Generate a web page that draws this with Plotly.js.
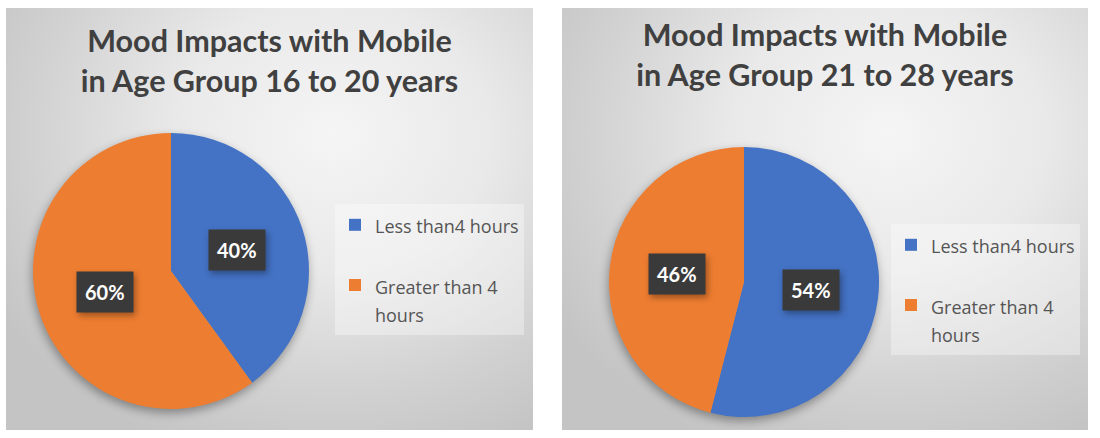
<!DOCTYPE html>
<html>
<head>
<meta charset="utf-8">
<script src="https://cdn.plot.ly/plotly-3.0.1.min.js"></script>
<style>
  html, body { margin: 0; padding: 0; background: #ffffff; width: 1100px; height: 438px; overflow: hidden; }
  .panel { position: absolute; top: 8px; height: 422px;
    background: radial-gradient(ellipse 75% 80% at 62% 30%, #f5f5f5 0%, #e9e9e9 40%, #d2d2d2 75%, #c4c4c4 100%); }
  #p1 { left: 6px; width: 527px; }
  #p2 { left: 562px; width: 526px; }
  .pielayer .trace { filter: drop-shadow(-1px 4px 5px rgba(0,0,0,0.35)); }
  .annotation-text-g rect.bg { filter: drop-shadow(2px 3px 3px rgba(0,0,0,0.35)); }
</style>
</head>
<body>
<div class="panel" id="p1"></div>
<div class="panel" id="p2"></div>
<script>
// ---- data ----
const categories = ["Less than4 hours", "Greater than 4 hours"];
const group1Values = [40, 60];
const group2Values = [54, 46];
const titles = [
  "Mood Impacts with Mobile<br>in Age Group 16 to 20 years",
  "Mood Impacts with Mobile<br>in Age Group 21 to 28 years"
];
const sliceColors = ["#4472C4", "#ED7D31"];

// ---- helpers ----
const FONT = "Lato, 'Open Sans', sans-serif";
const LEGEND_FONT = "'Open Sans', sans-serif";
function wrapLabel(s, maxLen) {
  const words = s.split(" ");
  const lines = [];
  let cur = "";
  words.forEach(w => {
    if (cur && (cur + " " + w).length > maxLen) { lines.push(cur); cur = w; }
    else { cur = cur ? cur + " " + w : w; }
  });
  if (cur) lines.push(cur);
  while (lines.length < 2) lines.push(" ");
  return lines.map(l => '<span style="font-size:18px">' + l + '</span>').join("<br>");
}

function drawPanel(divId, W, H, values, title, dom, titleCfg, legendCfg, labelK) {
  const labels = categories.map(c => wrapLabel(c, 16));
  const total = values.reduce((a, b) => a + b, 0);
  const rPx = Math.min((dom.x[1] - dom.x[0]) * W, (dom.y[1] - dom.y[0]) * H) / 2;
  const cx = (dom.x[0] + dom.x[1]) / 2, cy = (dom.y[0] + dom.y[1]) / 2;
  let cum = 0;
  const annotations = values.map((v, i) => {
    const mid = (cum + v / 2) / total * 2 * Math.PI;
    cum += v;
    return {
      xref: "paper", yref: "paper", x: cx, y: cy,
      xshift: labelK * rPx * Math.sin(mid),
      yshift: labelK * rPx * Math.cos(mid),
      text: Math.round(v / total * 100) + "%",
      showarrow: false,
      font: { family: FONT, size: 20, color: "#ffffff", weight: 700 },
      bgcolor: "#3a3a3a",
      borderpad: 8,
      xanchor: "center", yanchor: "middle"
    };
  });
  const trace = {
    type: "pie",
    labels: labels,
    values: values,
    sort: false,
    direction: "clockwise",
    rotation: 0,
    textinfo: "none",
    hoverinfo: "skip",
    marker: { colors: sliceColors, line: { width: 0 } },
    domain: dom
  };
  const layout = {
    width: W, height: H,
    margin: { l: 0, r: 0, t: 0, b: 0 },
    paper_bgcolor: "rgba(0,0,0,0)",
    plot_bgcolor: "rgba(0,0,0,0)",
    title: {
      text: title,
      font: { family: FONT, size: 30.5, color: "#404040", weight: 700 },
      x: titleCfg.x, xanchor: "center", y: titleCfg.y, yanchor: "top"
    },
    showlegend: true,
    legend: {
      x: legendCfg.x, y: legendCfg.y, xanchor: "left", yanchor: "top",
      bgcolor: "rgba(255,255,255,0.35)",
      borderwidth: 0,
      valign: "top",
      font: { family: LEGEND_FONT, size: 22, color: "#555555" }
    },
    annotations: annotations
  };
  Plotly.newPlot(divId, [trace], layout, { staticPlot: true, displayModeBar: false });
}

drawPanel("p1", 527, 422, group1Values, titles[0],
  { x: [27 / 527, 303 / 527], y: [21 / 422, 297 / 422] },
  { x: 0.5, y: 1 - 44 / 422 },
  { x: 329 / 527, y: 1 - 196 / 422 }, 0.5);

drawPanel("p2", 526, 422, group2Values, titles[1],
  { x: [47 / 526, 317 / 526], y: [13 / 422, 283 / 422] },
  { x: 0.5, y: 1 - 38 / 422 },
  { x: 329 / 526, y: 1 - 216 / 422 }, 0.5);
</script>
</body>
</html>
